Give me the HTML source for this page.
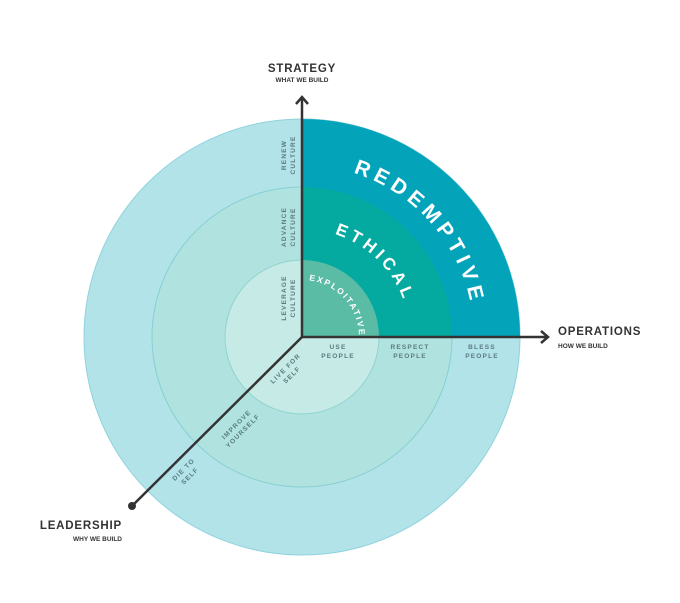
<!DOCTYPE html>
<html><head><style>body{margin:0;background:#fff}svg{display:block}text{font-family:"Liberation Sans",sans-serif;font-weight:bold}</style></head>
<body>
<svg width="680" height="603" viewBox="0 0 680 603" xmlns="http://www.w3.org/2000/svg">
<circle cx="302" cy="337" r="218" fill="#b2e3e9" stroke="#8fd3dc" stroke-width="1"/>
<circle cx="302" cy="337" r="150" fill="#b0e3e0" stroke="#86cfd0" stroke-width="1"/>
<circle cx="302" cy="337" r="77" fill="#c6eae5" stroke="#8fd3cf" stroke-width="1"/>
<path d="M302 337 L302 119 A218 218 0 0 1 520 337 Z" fill="#03a3ba"/>
<path d="M302 337 L302 187 A150 150 0 0 1 452 337 Z" fill="#04a9a0"/>
<path d="M302 337 L302 260 A77 77 0 0 1 379 337 Z" fill="#5bbca6"/>
<defs>
<path id="a1" d="M302 165 A172 172 0 0 1 474 337"/>
<path id="a2" d="M302 229 A108 108 0 0 1 410 337"/>
<path id="a3" d="M302 280 A57 57 0 0 1 359 337"/>
</defs>
<text fill="#fff" font-size="21" letter-spacing="5"><textPath href="#a1" startOffset="52">REDEMPTIVE</textPath></text>
<text fill="#fff" font-size="17" letter-spacing="4"><textPath href="#a2" startOffset="33">ETHICAL</textPath></text>
<text fill="#fff" font-size="8.5" letter-spacing="1.8"><textPath href="#a3" startOffset="7">EXPLOITATIVE</textPath></text>
<g stroke="#333" stroke-width="2.5" fill="none">
<line x1="302" y1="337" x2="302" y2="98"/>
<polyline points="296,104 302,97 308,104"/>
<line x1="302" y1="337" x2="547" y2="337"/>
<polyline points="541,331 548,337 541,343"/>
<line x1="302" y1="337" x2="132" y2="506"/>
</g>
<circle cx="132" cy="506" r="4" fill="#333"/>
<g fill="#333" text-anchor="middle">
<text x="302" y="72" font-size="11.5" letter-spacing="0.8">STRATEGY</text>
<text x="302" y="82" font-size="6.5">WHAT WE BUILD</text>
</g>
<g fill="#333">
<text x="558" y="335" font-size="11.5" letter-spacing="0.8">OPERATIONS</text>
<text x="558" y="348" font-size="6.5">HOW WE BUILD</text>
<text x="122" y="529" font-size="11.5" letter-spacing="0.8" text-anchor="end">LEADERSHIP</text>
<text x="122" y="541" font-size="6.5" text-anchor="end">WHY WE BUILD</text>
</g>
<g fill="#5b7a80" font-size="6.5" letter-spacing="1.2" text-anchor="middle">
<text transform="translate(286,155) rotate(-90)"><tspan x="0" y="0">RENEW</tspan><tspan x="0" y="9">CULTURE</tspan></text>
<text transform="translate(286,227) rotate(-90)"><tspan x="0" y="0">ADVANCE</tspan><tspan x="0" y="9">CULTURE</tspan></text>
<text transform="translate(286,298) rotate(-90)"><tspan x="0" y="0">LEVERAGE</tspan><tspan x="0" y="9">CULTURE</tspan></text>
<text x="338" y="349">USE</text><text x="338" y="358">PEOPLE</text>
<text x="410" y="349">RESPECT</text><text x="410" y="358">PEOPLE</text>
<text x="482" y="349">BLESS</text><text x="482" y="358">PEOPLE</text>
<text transform="translate(287,370) rotate(-45)"><tspan x="0" y="0">LIVE FOR</tspan><tspan x="0" y="9">SELF</tspan></text>
<text transform="translate(238,426) rotate(-45)"><tspan x="0" y="0">IMPROVE</tspan><tspan x="0" y="9">YOURSELF</tspan></text>
<text transform="translate(185,471) rotate(-45)"><tspan x="0" y="0">DIE TO</tspan><tspan x="0" y="9">SELF</tspan></text>
</g>
</svg>
</body></html>
